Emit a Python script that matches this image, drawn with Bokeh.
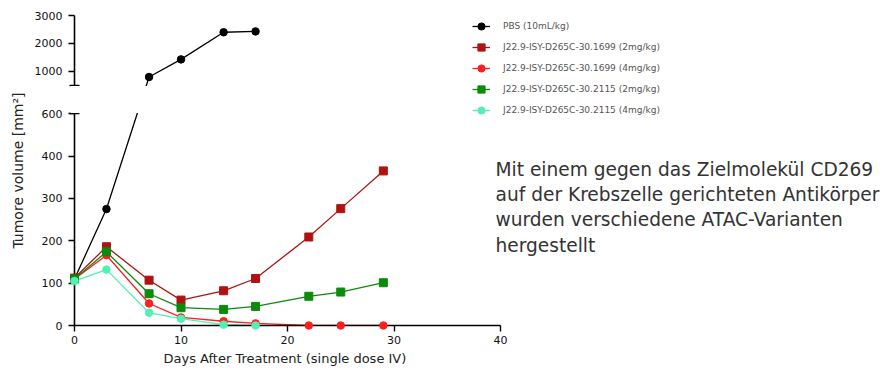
from bokeh.plotting import figure
from bokeh.models import (ColumnDataSource, CustomJSTransform, FixedTicker, Legend,
                          LegendItem, Label, Range1d, Title)
from bokeh.transform import transform
from bokeh.embed import file_html
from bokeh.resources import INLINE

# ---------------- data ----------------
days_pbs = [0, 3, 7, 10, 14, 17]
vol_pbs = [110, 275, 800, 1430, 2400, 2430]

days_long = [0, 3, 7, 10, 14, 17, 22, 25, 29]
vol_1699_2 = [112, 186, 107, 60, 82, 111, 209, 276, 365]
vol_1699_4 = [110, 166, 52, 19, 10, 5, 0, 0, 0]
vol_2115_2 = [110, 174, 75, 42, 38, 45, 69, 79, 101]

days_2115_4 = [0, 3, 7, 10, 14, 17]
vol_2115_4 = [105, 132, 30, 16, 2, 0]

series_labels = [
    "PBS (10mL/kg)",
    "J22.9-ISY-D265C-30.1699 (2mg/kg)",
    "J22.9-ISY-D265C-30.1699 (4mg/kg)",
    "J22.9-ISY-D265C-30.2115 (2mg/kg)",
    "J22.9-ISY-D265C-30.2115 (4mg/kg)",
]
series_colors = ["#000000", "#B01212", "#FF1E1E", "#0B8A0B", "#52F0B4"]
series_markers = ["circle", "square", "circle", "square", "circle"]

x_ticks = [0, 10, 20, 30, 40]
y_ticks_low = [0, 100, 200, 300, 400, 500]
y_labels_low = ["0", "100", "200", "300", "400", "600"]
y_ticks_high = [1000, 2000, 3000]
y_labels_high = ["1000", "2000", "3000"]

x_title = "Days After Treatment (single dose IV)"
y_title = "Tumore volume [mm²]"

note_lines = [
    "Mit einem gegen das Zielmolekül  CD269",
    "auf der Krebszelle gerichteten Antikörper",
    "wurden verschiedene ATAC-Varianten",
    "hergestellt",
]

# ---------------- broken y axis ----------------
BREAK = 500        # lower segment 0..500
TOP_BASE = 567     # axis position where the upper segment (500..3000) starts
TOP_K = 0.066      # compression of the upper segment
Y_MAX = 3000
X_AXIS_END = 40


def to_axis(v):
    return v if v <= BREAK else TOP_BASE + (v - BREAK) * TOP_K


brk = CustomJSTransform(args=dict(b=BREAK, base=TOP_BASE, k=TOP_K), v_func="""
    const out = new Array(xs.length)
    for (let i = 0; i < xs.length; i++) {
        const v = xs[i]
        out[i] = v <= b ? v : base + (v - b) * k
    }
    return out
""")

FONT = "DejaVu Sans"

# layout (pixels, canvas origin = page origin)
FRAME_W = 806          # frame extends right so legend / note fit inside it
AXIS_W = 426           # pixel length of the 0..40 day axis
FRAME_H = 310
BORDER_L = 74
BORDER_T = 15
BORDER_B = 46

p = figure(frame_width=FRAME_W, frame_height=FRAME_H,
           x_range=Range1d(0, X_AXIS_END * FRAME_W / AXIS_W),
           y_range=Range1d(0, to_axis(Y_MAX)),
           output_backend="svg", toolbar_location=None,
           min_border_left=BORDER_L, min_border_right=0,
           min_border_top=BORDER_T, min_border_bottom=BORDER_B)
p.grid.visible = False
p.outline_line_color = None
p.background_fill_color = "white"

# x axis
xa = p.xaxis[0]
xa.ticker = FixedTicker(ticks=x_ticks)
xa.bounds = (0, X_AXIS_END)
xa.axis_line_width = 1.6
xa.major_tick_line_width = 1.4
xa.major_tick_out = 6
xa.major_tick_in = 0
xa.major_label_standoff = 4
xa.major_label_text_font = FONT
xa.major_label_text_font_size = "11px"
xa.major_label_text_color = "#111111"

# x axis title, placed under the 0..40 axis
p.add_layout(Title(text=x_title, align="left", offset=89,
                   text_font=FONT, text_font_size="13px", text_font_style="normal",
                   text_color="#222222", standoff=5), "below")

# y axis (broken)
ya = p.yaxis[0]
ytick_pos = [to_axis(t) for t in y_ticks_low + y_ticks_high]
ya.ticker = FixedTicker(ticks=ytick_pos, minor_ticks=[to_axis(BREAK), TOP_BASE])
ya.major_label_overrides = {pos: lab for pos, lab in zip(ytick_pos, y_labels_low + y_labels_high)}
ya.axis_line_width = 1.6
ya.major_tick_line_width = 1.4
ya.major_tick_out = 6
ya.major_tick_in = 0
ya.minor_tick_out = 5
ya.minor_tick_in = 5
ya.minor_tick_line_width = 1.4
ya.minor_tick_line_color = "black"
ya.major_label_standoff = 6
ya.major_label_text_font = FONT
ya.major_label_text_font_size = "11px"
ya.major_label_text_color = "#111111"
ya.axis_label = y_title
ya.axis_label_text_font = FONT
ya.axis_label_text_font_size = "14px"
ya.axis_label_text_font_style = "normal"
ya.axis_label_text_color = "#222222"
ya.axis_label_standoff = 6

# series
series = [
    (days_pbs, vol_pbs),
    (days_long, vol_1699_2),
    (days_long, vol_1699_4),
    (days_long, vol_2115_2),
    (days_2115_4, vol_2115_4),
]
items = []
for (d, v), lab, col, mk in zip(series, series_labels, series_colors, series_markers):
    src = ColumnDataSource(dict(day=d, vol=v))
    lr = p.line("day", transform("vol", brk), source=src, line_color=col, line_width=1.3,
                level="glyph")
    sr = p.scatter("day", transform("vol", brk), source=src, marker=mk,
                   size=8 if mk == "square" else 7.5, fill_color=col, line_color=col,
                   level="annotation")
    items.append(LegendItem(label=lab, renderers=[lr, sr]))

# white gap of the axis break (hides axis line and the crossing line segment)
p.quad(left=[-0.35], right=[9], bottom=[to_axis(BREAK) + 1.6], top=[TOP_BASE - 1.6],
       fill_color="white", line_color=None, level="annotation")

FRAME_BOTTOM_PAGE = BORDER_T + FRAME_H
FRAME_LEFT_PAGE = BORDER_L

legend = Legend(items=items, location=(472 - FRAME_LEFT_PAGE, FRAME_BOTTOM_PAGE - 119),
                orientation="vertical",
                glyph_width=18, glyph_height=18, spacing=3, padding=0, margin=0,
                label_standoff=13, label_text_font=FONT, label_text_font_size="9px",
                label_text_color="#555555", border_line_color=None,
                background_fill_alpha=0)
p.add_layout(legend)

note_y_page = [168.7, 194.0, 219.3, 244.6]
for line, yb in zip(note_lines, note_y_page):
    p.add_layout(Label(x=421, y=FRAME_BOTTOM_PAGE - yb,
                       x_units="screen", y_units="screen", text=line,
                       text_font=FONT, text_font_size="18.6px", text_color="#333333",
                       text_baseline="alphabetic", text_align="left"))

open("out.html", "w").write(file_html(p, INLINE))
